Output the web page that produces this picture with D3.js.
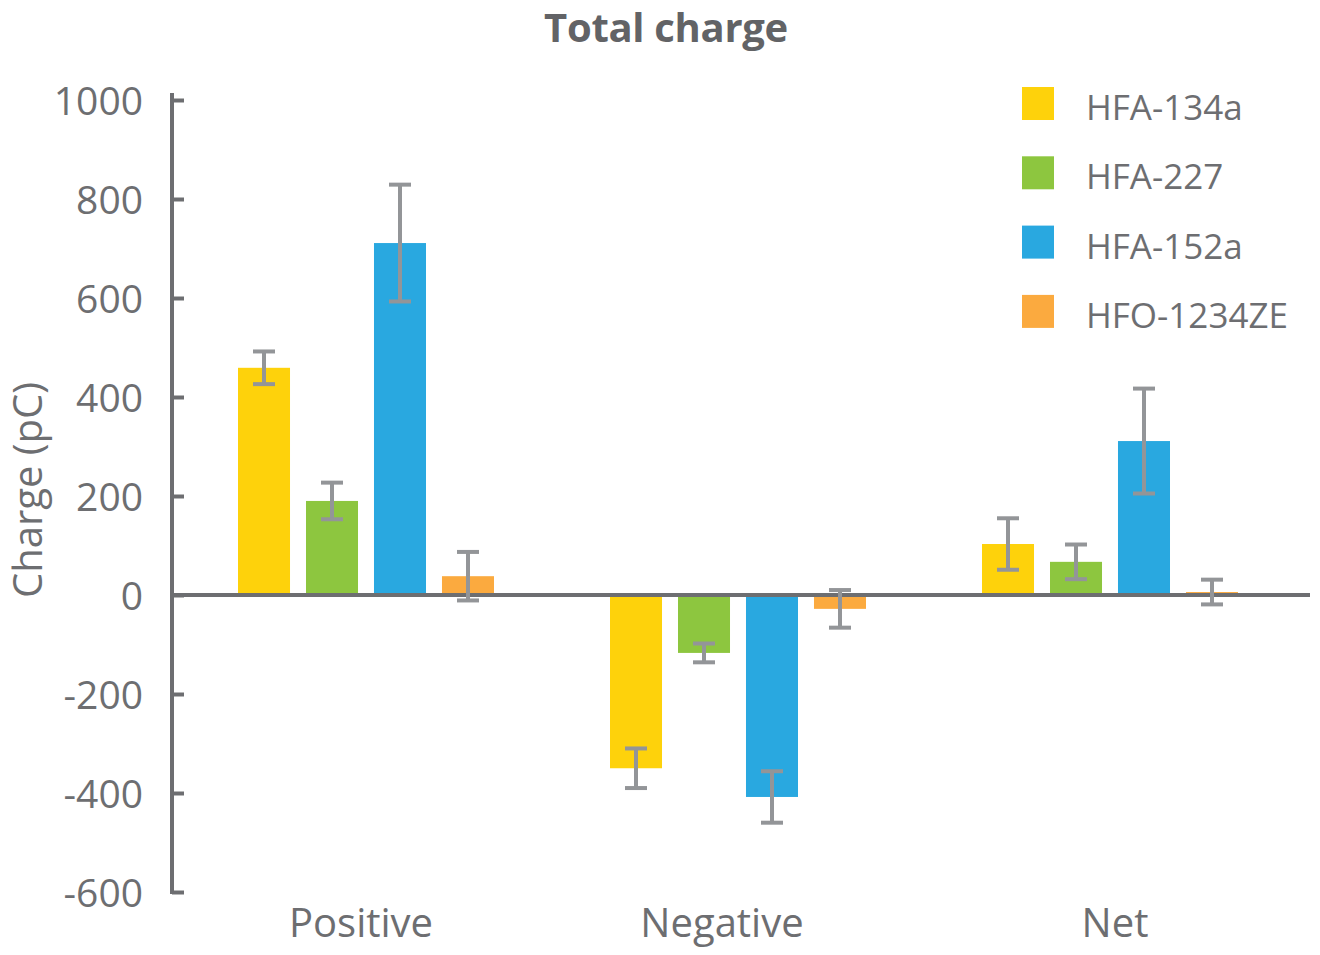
<!DOCTYPE html>
<html>
<head>
<meta charset="utf-8">
<script src="https://cdn.jsdelivr.net/npm/d3@7.9.0/dist/d3.min.js"></script>
<style>
  body { margin: 0; background: #fff; }
  svg { display: block; }
</style>
</head>
<body>
<script>
// Data
const groups = ["Positive", "Negative", "Net"];
const series = ["HFA-134a", "HFA-227", "HFA-152a", "HFO-1234ZE"];
const colors = ["#fed20b", "#8dc63f", "#29a8e0", "#fbaa3f"];
const hfa134a = [459, -350, 103];
const hfa227 = [190, -117, 67];
const hfa152a = [711, -408, 311];
const hfo1234ze = [38, -28, 6];
const err134a = [33, 40, 52];
const err227 = [37, 19, 35];
const err152a = [118, 52, 106];
const err1234ze = [49, 38, 25];
const yTicks = [-600, -400, -200, 0, 200, 400, 600, 800, 1000];

const values = [hfa134a, hfa227, hfa152a, hfo1234ze];
const errors = [err134a, err227, err152a, err1234ze];

const width = 1320, height = 955;
const axisGray = "#6d6e71";
const errGray = "#939598";
const font = "'Open Sans', sans-serif";

const svg = d3.select("body").append("svg")
    .attr("width", width)
    .attr("height", height);

// scales
const y = d3.scaleLinear().domain([-600, 1000]).range([892, 100]);
const x0 = d3.scaleBand().domain(groups).range([180, 1296]);
const x1 = d3.scaleBand().domain(series)
    .range([0, x0.bandwidth()])
    .paddingInner(0.235)
    .paddingOuter(0.853);
const color = d3.scaleOrdinal().domain(series).range(colors);

// flatten into rows
const rows = [];
series.forEach((s, i) => {
    groups.forEach((g, j) => {
        rows.push({ group: g, series: s, value: values[i][j], err: errors[i][j] });
    });
});

// title
svg.append("text")
    .attr("x", 666)
    .attr("y", 42)
    .attr("text-anchor", "middle")
    .style("font-family", font)
    .style("font-weight", "bold")
    .style("font-size", "40px")
    .style("letter-spacing", "-0.3px")
    .attr("fill", "#626366")
    .text("Total charge");

// bars
svg.append("g").selectAll("rect")
    .data(rows)
    .join("rect")
    .attr("x", d => x0(d.group) + x1(d.series))
    .attr("width", x1.bandwidth())
    .attr("y", d => y(Math.max(0, d.value)))
    .attr("height", d => Math.abs(y(d.value) - y(0)))
    .attr("fill", d => color(d.series));

// y axis (ticks pointing inward)
const yAxis = svg.append("g")
    .attr("transform", "translate(172,0)")
    .call(d3.axisLeft(y).tickValues(yTicks).tickFormat(d => String(d))
        .tickSize(-12).tickPadding(29).tickSizeOuter(0));
yAxis.select(".domain").remove();
yAxis.selectAll(".tick line")
    .attr("stroke", axisGray)
    .attr("stroke-width", 4);
yAxis.selectAll(".tick text")
    .attr("fill", axisGray)
    .attr("dy", "0.36em")
    .style("font-family", font)
    .style("font-size", "39px");
svg.append("line")
    .attr("x1", 172).attr("x2", 172)
    .attr("y1", 93).attr("y2", y(-600) + 2)
    .attr("stroke", axisGray)
    .attr("stroke-width", 4);

// zero line
svg.append("line")
    .attr("x1", 172).attr("x2", 1310)
    .attr("y1", y(0)).attr("y2", y(0))
    .attr("stroke", axisGray)
    .attr("stroke-width", 4);

// error bars
const eb = svg.append("g").selectAll("g")
    .data(rows)
    .join("g")
    .attr("transform", d => `translate(${x0(d.group) + x1(d.series) + x1.bandwidth() / 2},0)`)
    .attr("stroke", errGray)
    .attr("stroke-width", 4);
eb.append("line")
    .attr("y1", d => y(d.value + d.err))
    .attr("y2", d => y(d.value - d.err));
eb.append("line")
    .attr("x1", -11).attr("x2", 11)
    .attr("y1", d => y(d.value + d.err))
    .attr("y2", d => y(d.value + d.err));
eb.append("line")
    .attr("x1", -11).attr("x2", 11)
    .attr("y1", d => y(d.value - d.err))
    .attr("y2", d => y(d.value - d.err));

// category labels
const labelShift = { Positive: -5, Negative: -16, Net: 5 };
svg.append("g").selectAll("text")
    .data(groups)
    .join("text")
    .attr("x", d => x0(d) + x0.bandwidth() / 2 + labelShift[d])
    .attr("y", 937)
    .attr("text-anchor", "middle")
    .attr("fill", axisGray)
    .style("font-family", font)
    .style("font-size", "40px")
    .text(d => d);

// y axis title
svg.append("text")
    .attr("transform", "translate(42,490) rotate(-90)")
    .attr("text-anchor", "middle")
    .attr("fill", axisGray)
    .style("font-family", font)
    .style("font-size", "40px")
    .text("Charge (pC)");

// legend
const legend = svg.append("g").selectAll("g")
    .data(series)
    .join("g")
    .attr("transform", (d, i) => `translate(1022,${87 + i * 69.3})`);
legend.append("rect")
    .attr("width", 32)
    .attr("height", 33)
    .attr("fill", d => color(d));
legend.append("text")
    .attr("x", 64)
    .attr("y", 33)
    .attr("fill", axisGray)
    .style("font-family", font)
    .style("font-size", "35px")
    .text(d => d);
</script>
</body>
</html>
